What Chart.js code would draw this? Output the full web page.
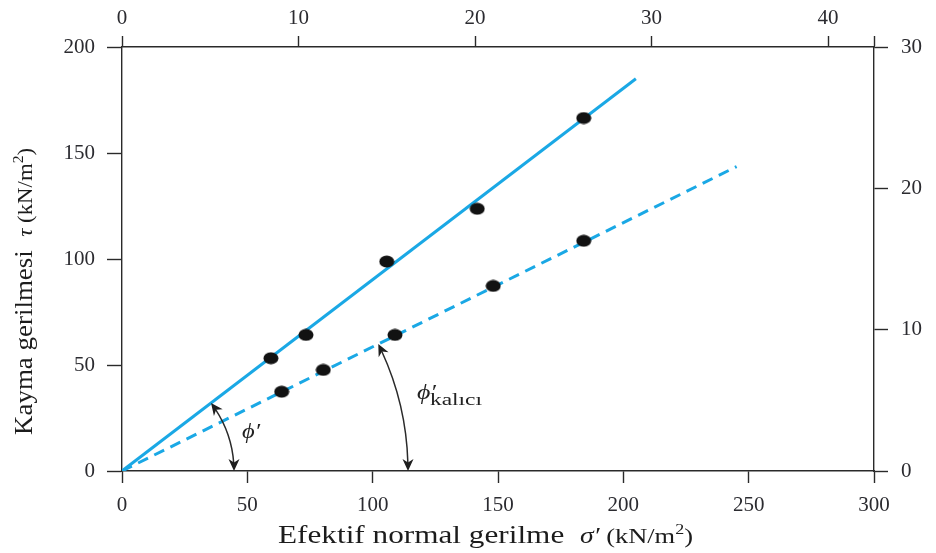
<!DOCTYPE html>
<html>
<head>
<meta charset="utf-8">
<script src="https://cdn.jsdelivr.net/npm/chart.js@4.4.1/dist/chart.umd.min.js"></script>
<style>
  html, body { margin: 0; padding: 0; background: #fff; }
  canvas { display: block; }
</style>
</head>
<body>
<canvas id="chartShear" width="936" height="553"></canvas>
<script>
/* global Chart */
'use strict';

// ── data ────────────────────────────────────────────────────────
var peakNormal     = [59.4, 73.4, 105.6, 141.7, 184.2];
var peakShear      = [53.2, 64.2, 98.8, 123.7, 166.5];
var residualNormal = [63.7, 80.3, 108.9, 148.1, 184.2];
var residualShear  = [37.4, 47.7, 64.2, 87.3, 108.6];

var peakLineX     = [0, 205];
var peakLineY     = [0, 185];
var residualLineX = [0, 245.2];
var residualLineY = [0, 143.6];

var bottomTicks = [0, 50, 100, 150, 200, 250, 300];
var leftTicks   = [0, 50, 100, 150, 200];
var topTicks    = [0, 10, 20, 30, 40];
var rightTicks  = [0, 10, 20, 30];

// ── style ───────────────────────────────────────────────────────
var SERIF = '"Liberation Serif", "Times New Roman", serif';
var AXIS  = '#2a2a2a';
var TEXT  = '#2b2b30';
var CYAN  = '#1aa8e5';

function toPoints(xs, ys) {
  return xs.map(function (x, i) { return { x: x, y: ys[i] }; });
}

function makeDot(w, h) {
  var c = document.createElement('canvas');
  c.width = w; c.height = h;
  var g = c.getContext('2d');
  g.fillStyle = '#121212';
  g.beginPath();
  g.ellipse(w / 2, h / 2, w / 2 - 0.5, h / 2 - 0.5, 0, 0, Math.PI * 2);
  g.fill();
  return c;
}
var dot = makeDot(16, 13);

function axisCfg(pos, min, max, ticks, boxSize, tickLen, pad, withMax) {
  return {
    type: 'linear',
    position: pos,
    display: true,
    min: min,
    max: max,
    afterBuildTicks: function (scale) {
      var vals = ticks.slice();
      if (withMax) vals.push(max);
      scale.ticks = vals.map(function (v) { return { value: v }; });
    },
    afterFit: function (scale) {
      if (pos === 'left' || pos === 'right') scale.width = boxSize;
      else scale.height = boxSize;
    },
    grid: {
      drawOnChartArea: false,
      drawTicks: true,
      tickLength: tickLen,
      tickColor: AXIS,
      tickWidth: 1.4,
      color: AXIS
    },
    border: { display: true, color: AXIS, width: 1.4 },
    ticks: {
      color: TEXT,
      padding: pad,
      font: { family: SERIF, size: 21 },
      callback: function (v) { return ticks.indexOf(v) !== -1 ? String(v) : ''; }
    }
  };
}

// ── text / annotation helpers ───────────────────────────────────

function drawRuns(ctx, runs, x, y, align, width) {
  var total = 0;
  runs.forEach(function (r) { ctx.font = r.font; r.w = ctx.measureText(r.t).width; total += r.w; });
  var s = width ? width / total : 1;
  ctx.save();
  ctx.translate(x, y);
  ctx.scale(s, 1);
  ctx.textBaseline = 'alphabetic';
  ctx.textAlign = 'left';
  var cx = align === 'center' ? -total / 2 : 0;
  runs.forEach(function (r) {
    ctx.font = r.font;
    ctx.fillText(r.t, cx, r.dy || 0);
    cx += r.w;
  });
  ctx.restore();
}

function arrowHead(ctx, x, y, dir) {
  var len = 12, half = 5.5;
  ctx.save();
  ctx.translate(x, y);
  ctx.rotate(dir);
  ctx.beginPath();
  ctx.moveTo(0, 0);
  ctx.lineTo(-len, -half);
  ctx.lineTo(-len * 0.7, 0);
  ctx.lineTo(-len, half);
  ctx.closePath();
  ctx.fill();
  ctx.restore();
}

function drawAngleArc(ctx, ox, oy, r, a) {
  var d = 8 / r;
  ctx.beginPath();
  ctx.arc(ox, oy, r, -a + d, -d);
  ctx.stroke();
  arrowHead(ctx, ox + r * Math.cos(a), oy - r * Math.sin(a), Math.atan2(-Math.cos(a), -Math.sin(a)));
  arrowHead(ctx, ox + r, oy, Math.PI / 2);
}

function lineAngle(xs, ys, lx, ly, ox, oy) {
  var px = xs.getPixelForValue(lx[1]);
  var py = ys.getPixelForValue(ly[1]);
  return Math.atan2(oy - py, px - ox);
}

var annotations = {
  id: 'annotations',
  afterDraw: function (chart) {
    var ctx = chart.ctx;
    var xs = chart.scales.x, ys = chart.scales.y;
    var ox = xs.getPixelForValue(0), oy = ys.getPixelForValue(0);

    ctx.save();
    ctx.strokeStyle = '#2a2a2a';
    ctx.fillStyle = '#1e1e1e';
    ctx.lineWidth = 1.5;
    drawAngleArc(ctx, ox, oy, 112, lineAngle(xs, ys, peakLineX, peakLineY, ox, oy));
    drawAngleArc(ctx, ox, oy, 286, lineAngle(xs, ys, residualLineX, residualLineY, ox, oy));

    ctx.fillStyle = '#222';
    drawRuns(ctx, [{ t: 'ϕ′', font: 'italic 22px ' + SERIF }], 251, 438, 'center', 18);
    drawRuns(ctx, [{ t: 'ϕ′', font: 'italic 22px ' + SERIF }], 417, 399, 'left', 19);
    drawRuns(ctx, [{ t: 'kalıcı', font: '16px ' + SERIF }], 430, 405, 'left', 52);

    // axis titles
    ctx.fillStyle = '#1c1c1c';
    drawRuns(ctx, [
      { t: 'Efektif normal gerilme  ', font: '26px ' + SERIF },
      { t: 'σ′', font: 'italic 23px ' + SERIF },
      { t: ' (kN/m', font: '22px ' + SERIF },
      { t: '2', font: '15px ' + SERIF, dy: -9 },
      { t: ')', font: '22px ' + SERIF }
    ], 485.5, 543, 'center', 415);

    ctx.save();
    ctx.translate(32, 291.5);
    ctx.rotate(-Math.PI / 2);
    drawRuns(ctx, [
      { t: 'Kayma gerilmesi  ', font: '26px ' + SERIF },
      { t: 'τ', font: 'italic 22px ' + SERIF },
      { t: ' (kN/m', font: '22px ' + SERIF },
      { t: '2', font: '15px ' + SERIF, dy: -9 },
      { t: ')', font: '22px ' + SERIF }
    ], 0, 0, 'center', 287);
    ctx.restore();

    ctx.restore();
  }
};

// ── chart ───────────────────────────────────────────────────────

var chartShear = new Chart(document.getElementById('chartShear').getContext('2d'), {
  type: 'scatter',
  data: {
    datasets: [
      {
        label: 'Tepe',
        data: toPoints(peakNormal, peakShear),
        pointStyle: dot,
        order: 0
      },
      {
        label: 'Kalıcı',
        data: toPoints(residualNormal, residualShear),
        pointStyle: dot,
        order: 0
      },
      {
        type: 'line',
        label: 'ϕ′',
        data: toPoints(peakLineX, peakLineY),
        borderColor: CYAN,
        borderWidth: 3,
        pointRadius: 0,
        fill: false,
        order: 1
      },
      {
        type: 'line',
        label: 'ϕ′ kalıcı',
        data: toPoints(residualLineX, residualLineY),
        borderColor: CYAN,
        borderWidth: 3,
        borderDash: [11, 7],
        pointRadius: 0,
        fill: false,
        order: 1
      }
    ]
  },
  options: {
    responsive: false,
    animation: false,
    layout: { padding: 0 },
    plugins: {
      legend: { display: false },
      tooltip: { enabled: false }
    },
    scales: {
      x:  axisCfg('bottom', 0, 300, bottomTicks, 82, 12, 10, false),
      y:  axisCfg('left',   0, 200, leftTicks,  122, 15, 12, false),
      x2: axisCfg('top',    0, 42.6, topTicks,   47, 11, 5, true),
      y2: axisCfg('right',  0, 30,  rightTicks,  62, 14, 13, false)
    }
  },
  plugins: [annotations]
});
</script>
</body>
</html>
